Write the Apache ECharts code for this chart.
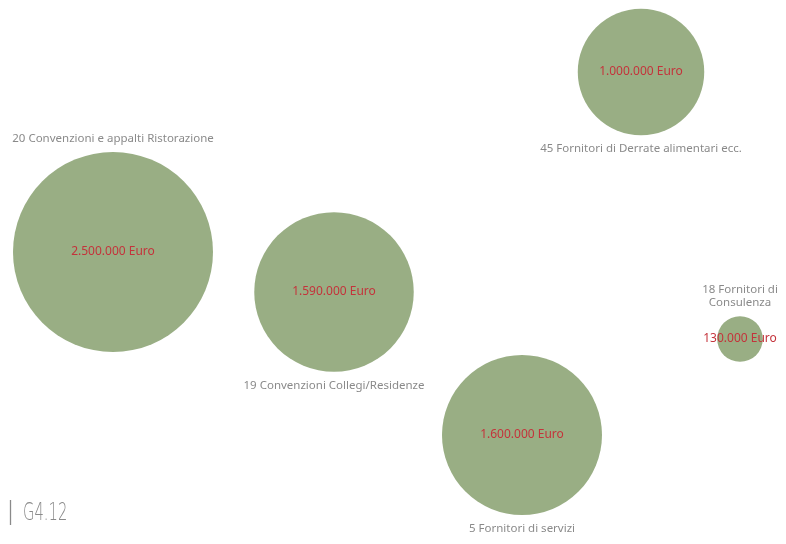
<!DOCTYPE html>
<html><head><meta charset="utf-8">
<script src="https://cdn.jsdelivr.net/npm/echarts@6/dist/echarts.min.js"></script>
<style>html,body{margin:0;padding:0;background:#fff}#c{width:786px;height:544px}</style>
</head><body><div id="c"></div>
<script>
const categories = ["20 Convenzioni e appalti Ristorazione","19 Convenzioni Collegi/Residenze","5 Fornitori di servizi","45 Fornitori di Derrate alimentari ecc.","18 Fornitori di\nConsulenza"];
const amounts = [2500000, 1590000, 1600000, 1000000, 130000];
const xPos = [113, 334, 522, 641, 740];
const yPos = [252, 292, 435, 72, 339];
const labelSide = ["top","bottom","bottom","bottom","top"];

function fmt(v){return v.toString().replace(/\B(?=(\d{3})+(?!\d))/g,".")+" Euro";}
const size = v => 2*63.25*Math.sqrt(v/1e6);
const data = amounts.map((v,i)=>({name:categories[i], value:[xPos[i], yPos[i], v]}));

const chart = echarts.init(document.getElementById('c'));
chart.setOption({
  animation:false,
  grid:{left:0,right:0,top:0,bottom:0},
  xAxis:{type:'value',min:0,max:786,show:false},
  yAxis:{type:'value',min:0,max:544,inverse:true,show:false},
  series:[
    {type:'scatter', data:data, symbolSize:d=>size(d[2]),
     itemStyle:{color:'#99ae84',opacity:1},
     label:{show:true,position:'inside',formatter:p=>fmt(p.value[2]),color:'#c4333b',fontSize:12,fontFamily:'Noto Sans'}},
    {type:'scatter', z:3, data:data.map((d,i)=>({name:d.name,value:d.value,label:{position:labelSide[i]}})),
     symbolSize:d=>size(d[2]), itemStyle:{color:'rgba(0,0,0,0)'}, silent:true,
     label:{show:true,formatter:p=>p.name,color:'#6b6b6b',fontSize:11.5,fontFamily:'Noto Sans',distance:7,lineHeight:13,align:'center'}}
  ],
  graphic:[
    {type:'line',shape:{x1:10.5,y1:500,x2:10.5,y2:525},style:{stroke:'#8a8a8a',lineWidth:1.3}},
    {type:'text',x:23,y:501,scaleX:0.59,style:{text:'G4.12',font:'200 25px "DejaVu Sans", sans-serif',fill:'#8a8a8a',textVerticalAlign:'top'}}
  ]
});
</script></body></html>
